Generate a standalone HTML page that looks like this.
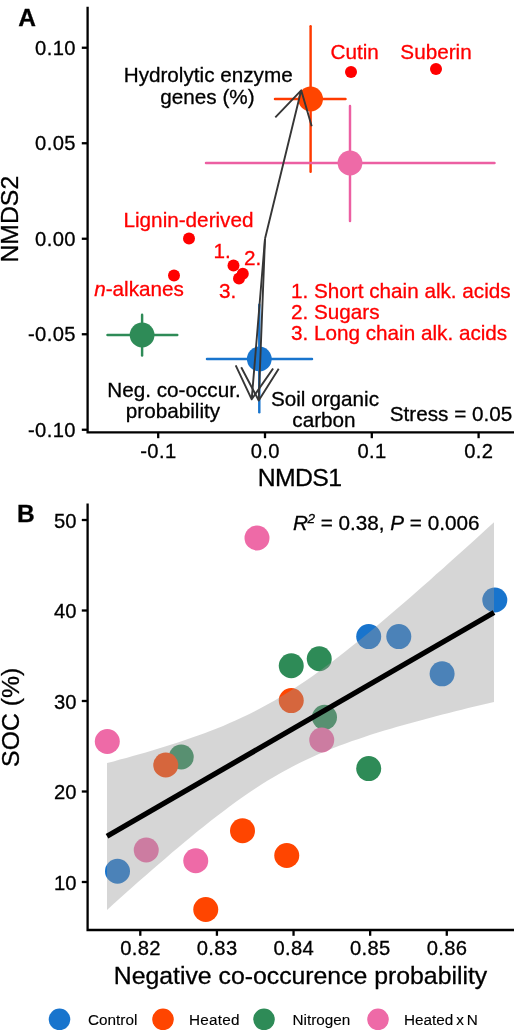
<!DOCTYPE html>
<html><head><meta charset="utf-8"><title>Figure</title>
<style>
html,body{margin:0;padding:0;background:#fff;}
svg{display:block;}
text{font-family:"Liberation Sans",Arial,sans-serif;fill:#000;stroke:#000;stroke-width:.3px;}
.r{fill:#ff0000;stroke:#ff0000;}
.t{font-size:20.2px;}
.d{letter-spacing:.35px;}
.l{font-size:20.7px;}
.ax{font-size:24.8px;}
.lg{font-size:15.3px;stroke-width:.12px;}
.b{font-weight:bold;font-size:24.5px;}
</style></head><body>
<svg width="520" height="1032" viewBox="0 0 520 1032">
<rect width="520" height="1032" fill="#fff"/>

<g id="panelA">
<line x1="275" y1="99" x2="345.5" y2="99" stroke="#ff3a00" stroke-width="2.45" stroke-linecap="round"/>
<line x1="310.6" y1="26.3" x2="310.6" y2="171.8" stroke="#ff3a00" stroke-width="2.45" stroke-linecap="round"/>
<circle cx="310.6" cy="99" r="12.4" fill="#ff4500"/>
<line x1="206" y1="163" x2="494.5" y2="163" stroke="#ec5fa2" stroke-width="2.45" stroke-linecap="round"/>
<line x1="350" y1="106" x2="350" y2="221" stroke="#ec5fa2" stroke-width="2.45" stroke-linecap="round"/>
<circle cx="350" cy="163" r="12.4" fill="#ee6aa7"/>
<line x1="107.5" y1="335" x2="177.3" y2="335" stroke="#2e8b57" stroke-width="2.45" stroke-linecap="round"/>
<line x1="142.1" y1="314.8" x2="142.1" y2="355.4" stroke="#2e8b57" stroke-width="2.45" stroke-linecap="round"/>
<circle cx="142.1" cy="335" r="12.4" fill="#2e8b57"/>
<line x1="207" y1="358.9" x2="312" y2="358.9" stroke="#1874cd" stroke-width="2.45" stroke-linecap="round"/>
<line x1="259.3" y1="304.8" x2="259.3" y2="412.2" stroke="#1874cd" stroke-width="2.45" stroke-linecap="round"/>
<circle cx="259.3" cy="358.9" r="12.4" fill="#1874cd"/>
<circle cx="351" cy="72" r="6" fill="#ff0000"/>
<circle cx="436" cy="69" r="6" fill="#ff0000"/>
<circle cx="189" cy="238.5" r="6" fill="#ff0000"/>
<circle cx="174" cy="275.5" r="6" fill="#ff0000"/>
<circle cx="233.5" cy="265.5" r="6" fill="#ff0000"/>
<circle cx="242.8" cy="273.7" r="6" fill="#ff0000"/>
<circle cx="239" cy="278.4" r="6" fill="#ff0000"/>
<path d="M265 238.75L301.2 90.3M311.7 126.3L301.2 90.3L275.3 117.4" fill="none" stroke="#363636" stroke-width="1.9" stroke-linejoin="round" stroke-linecap="butt"/>
<path d="M265 238.75L251.7 399.3M235.7 365.4L251.7 399.3L273.1 368.5" fill="none" stroke="#363636" stroke-width="1.9" stroke-linejoin="round" stroke-linecap="butt"/>
<path d="M265 238.75L258.7 400.5M241.2 367.3L258.7 400.5L278.7 368.8" fill="none" stroke="#363636" stroke-width="1.9" stroke-linejoin="round" stroke-linecap="butt"/>
<path d="M87.6 6.75V432.3H514" fill="none" stroke="#000" stroke-width="2.3"/>
<line x1="81.8" x2="87.6" y1="47.75" y2="47.75" stroke="#000" stroke-width="2.3"/>
<text class="t d" x="75.8" y="54.95" text-anchor="end">0.10</text>
<line x1="81.8" x2="87.6" y1="143.25" y2="143.25" stroke="#000" stroke-width="2.3"/>
<text class="t d" x="75.8" y="150.45" text-anchor="end">0.05</text>
<line x1="81.8" x2="87.6" y1="238.75" y2="238.75" stroke="#000" stroke-width="2.3"/>
<text class="t d" x="75.8" y="245.95" text-anchor="end">0.00</text>
<line x1="81.8" x2="87.6" y1="334.25" y2="334.25" stroke="#000" stroke-width="2.3"/>
<text class="t d" x="75.8" y="341.45" text-anchor="end">-0.05</text>
<line x1="81.8" x2="87.6" y1="429.75" y2="429.75" stroke="#000" stroke-width="2.3"/>
<text class="t d" x="75.8" y="436.95" text-anchor="end">-0.10</text>
<line x1="158.20" x2="158.20" y1="432.3" y2="438.2" stroke="#000" stroke-width="2.3"/>
<text class="t d" x="158.40" y="457.5" text-anchor="middle">-0.1</text>
<line x1="265.00" x2="265.00" y1="432.3" y2="438.2" stroke="#000" stroke-width="2.3"/>
<text class="t d" x="265.20" y="457.5" text-anchor="middle">0.0</text>
<line x1="371.80" x2="371.80" y1="432.3" y2="438.2" stroke="#000" stroke-width="2.3"/>
<text class="t d" x="372.00" y="457.5" text-anchor="middle">0.1</text>
<line x1="478.60" x2="478.60" y1="432.3" y2="438.2" stroke="#000" stroke-width="2.3"/>
<text class="t d" x="478.80" y="457.5" text-anchor="middle">0.2</text>
<text class="b" x="18.3" y="25.7">A</text>
<text class="ax" x="299.6" y="485.75" text-anchor="middle" letter-spacing="-0.6">NMDS1</text>
<text class="ax" transform="translate(18.1,219.2) rotate(-90)" text-anchor="middle">NMDS2</text>
<text class="l r" x="354.7" y="58.7" text-anchor="middle">Cutin</text>
<text class="l r" x="436" y="58.5" text-anchor="middle">Suberin</text>
<text class="l" x="208.2" y="82.3" text-anchor="middle">Hydrolytic enzyme</text>
<text class="l" x="207.5" y="104" text-anchor="middle">genes (%)</text>
<text class="l r" x="188.5" y="226.9" text-anchor="middle">Lignin-derived</text>
<text class="l r" x="139" y="296.2" text-anchor="middle"><tspan font-style="italic">n</tspan>-alkanes</text>
<text class="l r" x="213.6" y="258.4">1.</text>
<text class="l r" x="244" y="265">2.</text>
<text class="l r" x="219" y="298">3.</text>
<text class="l r" x="291" y="298">1. Short chain alk. acids</text>
<text class="l r" x="291" y="319">2. Sugars</text>
<text class="l r" x="291" y="340">3. Long chain alk. acids</text>
<text class="l" x="174" y="397" text-anchor="middle">Neg. co-occur.</text>
<text class="l" x="173" y="418" text-anchor="middle">probability</text>
<text class="l" x="325" y="406" text-anchor="middle">Soil organic</text>
<text class="l" x="324" y="427" text-anchor="middle">carbon</text>
<text class="l" x="451" y="421" text-anchor="middle">Stress = 0.05</text>
</g>
<g id="panelB">
<circle cx="257" cy="538" r="12.5" fill="#ee6aa7"/>
<circle cx="494.8" cy="600" r="12.5" fill="#1874cd"/>
<circle cx="368.7" cy="636.6" r="12.5" fill="#1874cd"/>
<circle cx="398.8" cy="636.6" r="12.5" fill="#1874cd"/>
<circle cx="442.1" cy="673.8" r="12.5" fill="#1874cd"/>
<circle cx="291.25" cy="665.75" r="12.5" fill="#2e8b57"/>
<circle cx="319.25" cy="658.75" r="12.5" fill="#2e8b57"/>
<circle cx="291.25" cy="700.6" r="12.5" fill="#ff4500"/>
<circle cx="324.5" cy="717.3" r="12.5" fill="#2e8b57"/>
<circle cx="321.75" cy="740" r="12.5" fill="#ee6aa7"/>
<circle cx="107.3" cy="741.5" r="12.5" fill="#ee6aa7"/>
<circle cx="368.7" cy="768.6" r="12.5" fill="#2e8b57"/>
<circle cx="181.25" cy="757" r="12.5" fill="#2e8b57"/>
<circle cx="165.75" cy="765" r="12.5" fill="#ff4500"/>
<circle cx="242.5" cy="830.75" r="12.5" fill="#ff4500"/>
<circle cx="146.25" cy="850" r="12.5" fill="#ee6aa7"/>
<circle cx="286.75" cy="855.5" r="12.5" fill="#ff4500"/>
<circle cx="195.75" cy="860.75" r="12.5" fill="#ee6aa7"/>
<circle cx="117.5" cy="871.25" r="12.5" fill="#1874cd"/>
<circle cx="205.75" cy="909.5" r="12.5" fill="#ff4500"/>
<path d="M107.0 763.1L113.5 761.4L119.9 759.6L126.3 757.9L132.8 756.1L139.2 754.2L145.7 752.4L152.2 750.5L158.6 748.5L165.1 746.6L171.5 744.5L177.9 742.5L184.4 740.3L190.8 738.1L197.3 735.8L203.8 733.5L210.2 731.0L216.7 728.5L223.1 725.9L229.6 723.1L236.0 720.3L242.4 717.3L248.9 714.2L255.3 711.0L261.8 707.6L268.2 704.1L274.7 700.4L281.1 696.6L287.6 692.6L294.1 688.5L300.5 684.3L306.9 679.9L313.4 675.4L319.9 670.8L326.3 666.1L332.8 661.2L339.2 656.3L345.6 651.2L352.1 646.1L358.6 640.9L365.0 635.7L371.4 630.4L377.9 625.0L384.4 619.5L390.8 614.1L397.2 608.5L403.7 603.0L410.1 597.4L416.6 591.7L423.1 586.0L429.5 580.4L435.9 574.6L442.4 568.9L448.9 563.1L455.3 557.3L461.8 551.5L468.2 545.7L474.6 539.9L481.1 534.0L487.6 528.1L494.0 522.3L494.0 701.9L487.6 703.4L481.1 705.0L474.6 706.5L468.2 708.1L461.8 709.7L455.3 711.3L448.9 712.9L442.4 714.6L435.9 716.3L429.5 717.9L423.1 719.7L416.6 721.4L410.1 723.2L403.7 725.0L397.2 726.8L390.8 728.7L384.4 730.6L377.9 732.6L371.4 734.6L365.0 736.7L358.6 738.9L352.1 741.1L345.6 743.4L339.2 745.8L332.8 748.3L326.3 750.9L319.9 753.6L313.4 756.5L306.9 759.4L300.5 762.5L294.1 765.8L287.6 769.2L281.1 772.7L274.7 776.4L268.2 780.3L261.8 784.3L255.3 788.5L248.9 792.8L242.4 797.2L236.0 801.8L229.6 806.5L223.1 811.4L216.7 816.3L210.2 821.3L203.8 826.4L197.3 831.6L190.8 836.9L184.4 842.3L177.9 847.7L171.5 853.1L165.1 858.7L158.6 864.2L152.2 869.8L145.7 875.5L139.2 881.1L132.8 886.8L126.3 892.6L119.9 898.3L113.5 904.1L107.0 909.9Z" fill="#999" fill-opacity="0.4"/>
<line x1="107" y1="836.25" x2="494" y2="612.5" stroke="#000" stroke-width="5.3"/>
<path d="M87.6 503.5V930H514" fill="none" stroke="#000" stroke-width="2.3"/>
<line x1="81.8" x2="87.6" y1="520.00" y2="520.00" stroke="#000" stroke-width="2.3"/>
<text class="t" x="76.4" y="527.70" text-anchor="end">50</text>
<line x1="81.8" x2="87.6" y1="610.50" y2="610.50" stroke="#000" stroke-width="2.3"/>
<text class="t" x="76.4" y="618.20" text-anchor="end">40</text>
<line x1="81.8" x2="87.6" y1="701.00" y2="701.00" stroke="#000" stroke-width="2.3"/>
<text class="t" x="76.4" y="708.70" text-anchor="end">30</text>
<line x1="81.8" x2="87.6" y1="791.50" y2="791.50" stroke="#000" stroke-width="2.3"/>
<text class="t" x="76.4" y="799.20" text-anchor="end">20</text>
<line x1="81.8" x2="87.6" y1="882.00" y2="882.00" stroke="#000" stroke-width="2.3"/>
<text class="t" x="76.4" y="889.70" text-anchor="end">10</text>
<line x1="140.30" x2="140.30" y1="930" y2="935.8" stroke="#000" stroke-width="2.3"/>
<text class="t d" x="140.50" y="955.4" text-anchor="middle">0.82</text>
<line x1="216.92" x2="216.92" y1="930" y2="935.8" stroke="#000" stroke-width="2.3"/>
<text class="t d" x="217.12" y="955.4" text-anchor="middle">0.83</text>
<line x1="293.54" x2="293.54" y1="930" y2="935.8" stroke="#000" stroke-width="2.3"/>
<text class="t d" x="293.74" y="955.4" text-anchor="middle">0.84</text>
<line x1="370.16" x2="370.16" y1="930" y2="935.8" stroke="#000" stroke-width="2.3"/>
<text class="t d" x="370.36" y="955.4" text-anchor="middle">0.85</text>
<line x1="446.78" x2="446.78" y1="930" y2="935.8" stroke="#000" stroke-width="2.3"/>
<text class="t d" x="446.98" y="955.4" text-anchor="middle">0.86</text>
<text class="b" x="17" y="522">B</text>
<text class="ax" x="300.5" y="983.5" text-anchor="middle">Negative co-occurence probability</text>
<text class="ax" transform="translate(19.3,717.3) rotate(-90)" text-anchor="middle">SOC (%)</text>
<text class="l" x="293" y="530"><tspan font-style="italic">R</tspan><tspan font-size="13.5" font-style="italic" dy="-7.5" dx="-0.5">2</tspan><tspan dy="7.5"> = 0.38, </tspan><tspan font-style="italic">P</tspan> = 0.006</text>
<circle cx="59.5" cy="1019.3" r="10.75" fill="#1874cd"/>
<text class="lg" x="88" y="1024.5">Control</text>
<circle cx="163" cy="1019.3" r="10.75" fill="#ff4500"/>
<text class="lg" x="189" y="1024.5" letter-spacing="0.25">Heated</text>
<circle cx="264" cy="1019.3" r="10.75" fill="#2e8b57"/>
<text class="lg" x="292.5" y="1024.5">Nitrogen</text>
<circle cx="378" cy="1019.3" r="10.75" fill="#ee6aa7"/>
<text class="lg" x="404" y="1024.5" word-spacing="-1.3">Heated x N</text>
</g>
</svg></body></html>
